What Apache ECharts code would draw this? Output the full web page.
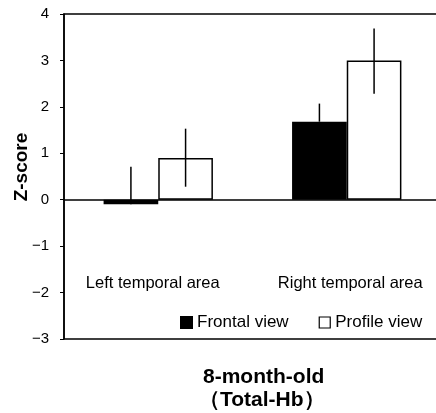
<!DOCTYPE html>
<html>
<head>
<meta charset="utf-8">
<script src="https://cdn.jsdelivr.net/npm/echarts@6/dist/echarts.min.js"></script>
<style>
  html, body { margin: 0; padding: 0; background: #fff; }
  #chart { width: 436px; height: 413px; }
</style>
</head>
<body>
<div id="chart"></div>
<script>
var categories = ["Left temporal area", "Right temporal area"];
var frontal = [-0.1, 1.68];
var profile = [0.9, 3.0];
var frontalHigh = [0.71, 2.07];
var profileLow = [0.28, 2.28];
var profileHigh = [1.53, 3.69];
var yTicks = [-3, -2, -1, 0, 1, 2, 3, 4];

var fontFam = "'Liberation Sans', Arial, sans-serif";
var barW = 0.29;

var chartDom = document.getElementById("chart");
var myChart = echarts.init(chartDom);

function errItem(side) {
  return function (params, api) {
    var lo = api.coord([api.value(0), api.value(1)]);
    var hi = api.coord([api.value(0), api.value(2)]);
    var band = api.size([1, 0])[0];
    var x = lo[0] + side * band * barW / 2;
    return {
      type: "line",
      shape: { x1: x, y1: lo[1], x2: x, y2: hi[1] },
      style: { stroke: "#000", lineWidth: 1.5 }
    };
  };
}

var frontalErr = [];
var profileErr = [];
for (var i = 0; i < categories.length; i++) {
  frontalErr.push([i, frontal[i], frontalHigh[i]]);
  profileErr.push([i, profileLow[i], profileHigh[i]]);
}

var option = {
  animation: false,
  textStyle: { fontFamily: fontFam, color: "#000" },
  grid: {
    left: 64, top: 14, right: -5, bottom: 74,
    show: true, borderColor: "#000", borderWidth: 1.5,
    containLabel: false,
    outerBoundsMode: "none"
  },
  legend: {
    left: 180, top: 314, padding: 0,
    itemWidth: 11, itemHeight: 11, itemGap: 30,
    textStyle: { fontSize: 17, color: "#000", fontFamily: fontFam },
    data: [
      { name: "Frontal view", icon: "rect", itemStyle: { color: "#000" } },
      { name: "Profile view", icon: "rect", itemStyle: { color: "#fff", borderColor: "#000", borderWidth: 1.2 } }
    ]
  },
  title: [
    { text: "8-month-old", left: 198, top: 362,
      textStyle: { fontSize: 21, fontWeight: "bold", color: "#000", fontFamily: fontFam } },
    { text: "（Total-Hb）", left: 194, top: 385,
      textStyle: { fontSize: 21, fontWeight: "bold", color: "#000", fontFamily: fontFam } }
  ],
  graphic: [
    { type: "text", x: 22, y: 167, rotation: Math.PI / 2,
      style: { text: "Z-score", font: "bold 19px " + fontFam, fill: "#000", align: "center", verticalAlign: "middle" } }
  ],
  xAxis: {
    type: "category",
    data: categories,
    axisLine: { onZero: true, lineStyle: { color: "#000", width: 1.5 } },
    axisTick: { inside: true, length: 3, lineStyle: { color: "#000" } },
    axisLabel: {
      interval: 0, hideOverlap: false, showMinLabel: true, showMaxLabel: true,
      margin: -56, verticalAlign: "middle", fontSize: 16.5, color: "#000", fontFamily: fontFam,
      formatter: function (v, idx) { return idx === 0 ? "{l|" + v + "}" : "{r|" + v + "}"; },
      rich: {
        l: { fontSize: 16.5, fontFamily: fontFam, color: "#000", padding: [0, 11, 0, 0] },
        r: { fontSize: 16.5, fontFamily: fontFam, color: "#000", padding: [0, 0, 0, 7] }
      }
    }
  },
  yAxis: {
    type: "value",
    min: -3, max: 4, interval: 1,
    splitLine: { show: false },
    axisLine: { show: true, lineStyle: { color: "#000", width: 1.5 } },
    axisTick: { show: true, length: 4, lineStyle: { color: "#000" } },
    axisLabel: {
      margin: 15, fontSize: 15, color: "#000", fontFamily: fontFam,
      formatter: function (v) { return yTicks.indexOf(v) >= 0 ? String(v).replace("-", "\u2212") : ""; }
    }
  },
  series: [
    { name: "Frontal view", type: "bar", data: frontal, barWidth: "29%", barGap: "0%",
      itemStyle: { color: "#000", borderColor: "#000", borderWidth: 1.5 } },
    { name: "Profile view", type: "bar", data: profile, barWidth: "29%", barGap: "0%",
      itemStyle: { color: "#fff", borderColor: "#000", borderWidth: 1.5 } },
    { type: "custom", renderItem: errItem(-1), data: frontalErr, z: 5,
      encode: { x: 0, y: [1, 2] } },
    { type: "custom", renderItem: errItem(1), data: profileErr, z: 5,
      encode: { x: 0, y: [1, 2] } }
  ]
};

myChart.setOption(option);
</script>
</body>
</html>
